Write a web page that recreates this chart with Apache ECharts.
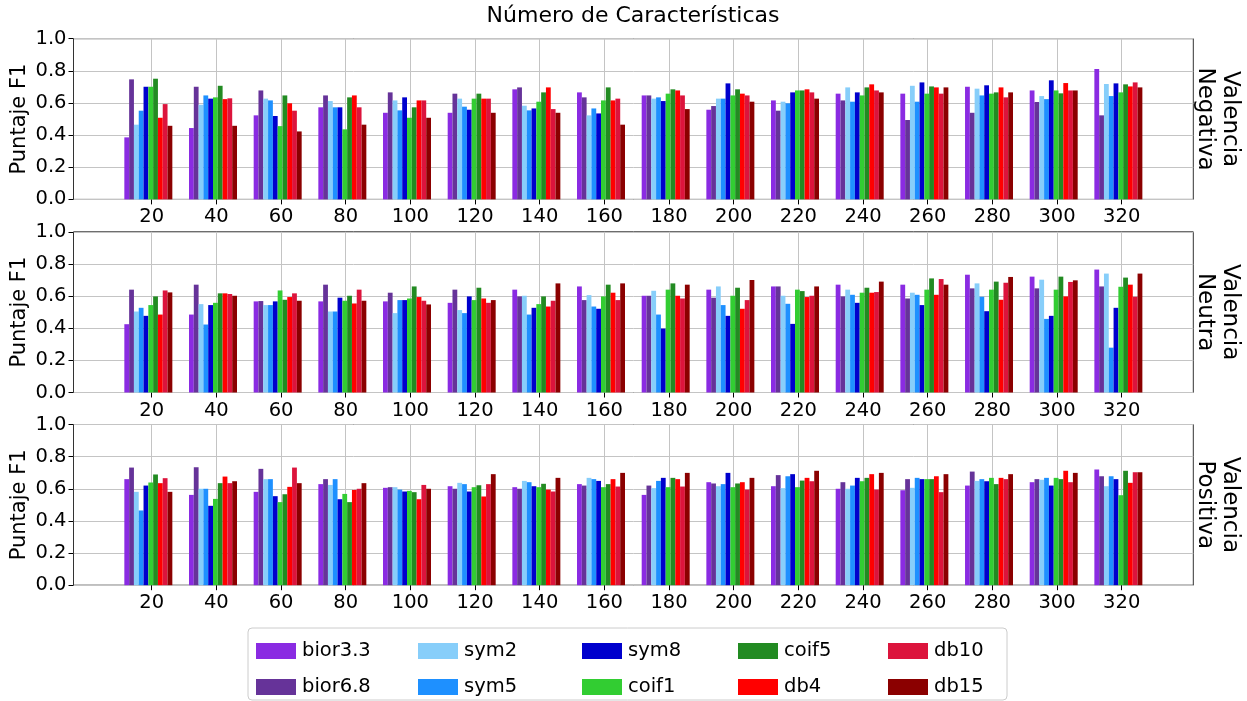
<!DOCTYPE html>
<html>
<head>
<meta charset="utf-8">
<title>Número de Características</title>
<script src="https://cdn.jsdelivr.net/npm/echarts@6/dist/echarts.min.js"></script>
<style>
  html, body { margin: 0; padding: 0; background: #fff; }
  #main { width: 1247px; height: 701px; }
</style>
</head>
<body>
<div id="main"></div>
<script>
// Number of features on the x axis
const categories = ['20', '40', '60', '80', '100', '120', '140', '160', '180', '200', '220', '240', '260', '280', '300', '320'];
const seriesNames = ['bior3.3', 'bior6.8', 'sym2', 'sym5', 'sym8', 'coif1', 'coif5', 'db4', 'db10', 'db15'];
const seriesColors = ['#8A2BE2', '#663399', '#87CEFA', '#1E90FF', '#0000CD', '#32CD32', '#228B22', '#FF0000', '#DC143C', '#8B0000'];
const panelLabels = ['Valencia\nNegativa', 'Valencia\nNeutra', 'Valencia\nPositiva'];
const yTickLabels = ['0.0', '0.2', '0.4', '0.6', '0.8', '1.0'];

// F1 scores, negative valence
const negBior33 = [0.386, 0.444, 0.523, 0.573, 0.539, 0.539, 0.685, 0.666, 0.647, 0.558, 0.616, 0.658, 0.658, 0.701, 0.678, 0.811];
const negBior68 = [0.747, 0.701, 0.678, 0.647, 0.666, 0.658, 0.697, 0.635, 0.647, 0.581, 0.552, 0.616, 0.494, 0.539, 0.606, 0.523];
const negSym2   = [0.465, 0.589, 0.627, 0.612, 0.616, 0.627, 0.583, 0.523, 0.627, 0.627, 0.608, 0.697, 0.707, 0.689, 0.643, 0.718];
const negSym5   = [0.552, 0.647, 0.616, 0.573, 0.554, 0.577, 0.554, 0.566, 0.635, 0.627, 0.598, 0.608, 0.608, 0.647, 0.624, 0.643];
const negSym8   = [0.701, 0.627, 0.519, 0.573, 0.635, 0.558, 0.566, 0.535, 0.612, 0.722, 0.666, 0.666, 0.728, 0.710, 0.741, 0.722];
const negCoif1  = [0.701, 0.635, 0.456, 0.436, 0.508, 0.627, 0.608, 0.616, 0.658, 0.647, 0.678, 0.647, 0.658, 0.658, 0.678, 0.666];
const negCoif5  = [0.751, 0.707, 0.647, 0.635, 0.573, 0.658, 0.666, 0.697, 0.685, 0.685, 0.678, 0.697, 0.703, 0.666, 0.660, 0.716];
const negDb4    = [0.508, 0.624, 0.598, 0.647, 0.616, 0.627, 0.697, 0.616, 0.678, 0.658, 0.685, 0.716, 0.697, 0.697, 0.724, 0.703];
const negDb10   = [0.593, 0.629, 0.552, 0.573, 0.616, 0.627, 0.562, 0.627, 0.647, 0.647, 0.666, 0.678, 0.658, 0.635, 0.678, 0.728];
const negDb15   = [0.458, 0.458, 0.423, 0.465, 0.508, 0.539, 0.539, 0.465, 0.562, 0.608, 0.627, 0.666, 0.697, 0.666, 0.678, 0.697];

// F1 scores, neutral valence
const neuBior33 = [0.425, 0.485, 0.567, 0.567, 0.567, 0.558, 0.640, 0.660, 0.602, 0.640, 0.660, 0.671, 0.671, 0.733, 0.721, 0.765];
const neuBior68 = [0.640, 0.671, 0.569, 0.671, 0.621, 0.640, 0.598, 0.575, 0.602, 0.590, 0.660, 0.598, 0.585, 0.648, 0.648, 0.660];
const neuSym2   = [0.504, 0.550, 0.544, 0.504, 0.494, 0.513, 0.602, 0.606, 0.633, 0.660, 0.602, 0.640, 0.621, 0.679, 0.702, 0.740];
const neuSym5   = [0.527, 0.423, 0.544, 0.504, 0.575, 0.494, 0.485, 0.535, 0.485, 0.544, 0.552, 0.608, 0.608, 0.596, 0.458, 0.279];
const neuSym8   = [0.477, 0.544, 0.567, 0.590, 0.575, 0.598, 0.527, 0.521, 0.398, 0.477, 0.427, 0.558, 0.544, 0.506, 0.477, 0.527];
const neuCoif1  = [0.544, 0.558, 0.635, 0.571, 0.585, 0.575, 0.550, 0.598, 0.640, 0.602, 0.640, 0.621, 0.640, 0.640, 0.640, 0.658];
const neuCoif5  = [0.598, 0.617, 0.577, 0.602, 0.660, 0.652, 0.598, 0.671, 0.679, 0.652, 0.631, 0.652, 0.710, 0.690, 0.721, 0.715];
const neuDb4    = [0.485, 0.617, 0.594, 0.554, 0.594, 0.585, 0.535, 0.621, 0.602, 0.521, 0.594, 0.621, 0.608, 0.577, 0.598, 0.671];
const neuDb10   = [0.635, 0.613, 0.617, 0.640, 0.571, 0.558, 0.571, 0.575, 0.585, 0.575, 0.602, 0.625, 0.706, 0.683, 0.688, 0.596];
const neuDb15   = [0.623, 0.602, 0.571, 0.571, 0.548, 0.575, 0.679, 0.679, 0.671, 0.700, 0.660, 0.690, 0.671, 0.719, 0.698, 0.740];

// F1 scores, positive valence
const posBior33 = [0.660, 0.562, 0.581, 0.629, 0.606, 0.616, 0.610, 0.629, 0.562, 0.641, 0.616, 0.600, 0.591, 0.620, 0.641, 0.720];
const posBior68 = [0.732, 0.734, 0.724, 0.660, 0.610, 0.600, 0.600, 0.620, 0.620, 0.633, 0.685, 0.641, 0.660, 0.707, 0.660, 0.678];
const posSym2   = [0.581, 0.600, 0.660, 0.624, 0.610, 0.637, 0.649, 0.668, 0.604, 0.616, 0.604, 0.600, 0.606, 0.649, 0.656, 0.616];
const posSym5   = [0.465, 0.600, 0.660, 0.660, 0.595, 0.629, 0.641, 0.660, 0.649, 0.629, 0.678, 0.620, 0.668, 0.660, 0.668, 0.678];
const posSym8   = [0.620, 0.494, 0.554, 0.535, 0.583, 0.583, 0.616, 0.649, 0.668, 0.699, 0.691, 0.668, 0.660, 0.647, 0.620, 0.660];
const posCoif1  = [0.639, 0.537, 0.517, 0.568, 0.587, 0.610, 0.610, 0.610, 0.610, 0.610, 0.610, 0.647, 0.660, 0.668, 0.668, 0.560];
const posCoif5  = [0.689, 0.635, 0.566, 0.517, 0.579, 0.622, 0.631, 0.629, 0.668, 0.633, 0.651, 0.668, 0.660, 0.629, 0.660, 0.712];
const posDb4    = [0.635, 0.676, 0.612, 0.593, 0.535, 0.552, 0.595, 0.660, 0.660, 0.641, 0.668, 0.691, 0.678, 0.668, 0.712, 0.637];
const posDb10   = [0.666, 0.635, 0.732, 0.600, 0.624, 0.629, 0.583, 0.614, 0.614, 0.595, 0.647, 0.595, 0.579, 0.660, 0.641, 0.703];
const posDb15   = [0.581, 0.647, 0.635, 0.635, 0.600, 0.691, 0.668, 0.699, 0.699, 0.668, 0.712, 0.699, 0.691, 0.691, 0.699, 0.703];

const panels = [
  [negBior33, negBior68, negSym2, negSym5, negSym8, negCoif1, negCoif5, negDb4, negDb10, negDb15],
  [neuBior33, neuBior68, neuSym2, neuSym5, neuSym8, neuCoif1, neuCoif5, neuDb4, neuDb10, neuDb15],
  [posBior33, posBior68, posSym2, posSym5, posSym8, posCoif1, posCoif5, posDb4, posDb10, posDb15]
];

const FONT = 'DejaVu Sans';
const TICK_FS = 19.5;
const plotTop = [38.7, 231.8, 424.5];
const plotH = 160.7;
const frameLeft = 73.5, frameWidth = 1119.8;   // axes box
const tickLeft = 151.7, tickWidth = 970;       // first to last tick
const barLeft = 116, barWidth = 1034.7;        // category bands holding the bar groups

const grids = [], xAxes = [], yAxes = [], series = [], graphics = [];

panels.forEach((rows, p) => {
  const g = grids.length;
  // frame + horizontal grid + y labels
  grids.push({ left: frameLeft, width: frameWidth, top: plotTop[p], height: plotH,
    show: true, borderColor: '#333', borderWidth: 1, backgroundColor: 'transparent' });
  // x ticks, labels and vertical grid lines
  grids.push({ left: tickLeft, width: tickWidth, top: plotTop[p], height: plotH });
  // bars
  grids.push({ left: barLeft, width: barWidth, top: plotTop[p], height: plotH });

  xAxes.push({ gridIndex: g, type: 'value', min: 0, max: 1, show: false });
  yAxes.push({ gridIndex: g, type: 'value', min: 0, max: 1, interval: 0.2,
    axisLine: { show: false },
    axisTick: { show: true, length: 5, lineStyle: { color: '#000', width: 1 } },
    axisLabel: { fontSize: TICK_FS, color: '#000', fontFamily: FONT, margin: 7,
      formatter: v => yTickLabels[Math.round(v / 0.2)] },
    splitLine: { show: true, lineStyle: { color: '#c4c4c4', width: 1 } } });

  xAxes.push({ gridIndex: g + 1, type: 'category', data: categories, boundaryGap: false,
    axisLine: { show: false },
    axisTick: { show: true, length: 5, interval: 0, lineStyle: { color: '#000', width: 1 } },
    axisLabel: { fontSize: TICK_FS, color: '#000', fontFamily: FONT, margin: 8, interval: 0 },
    splitLine: { show: true, interval: 0, lineStyle: { color: '#c4c4c4', width: 1 } } });
  yAxes.push({ gridIndex: g + 1, type: 'value', min: 0, max: 1, show: false });

  xAxes.push({ gridIndex: g + 2, type: 'category', data: categories, show: false });
  yAxes.push({ gridIndex: g + 2, type: 'value', min: 0, max: 1, show: false });

  rows.forEach((vals, s) => {
    series.push({
      type: 'bar', name: seriesNames[s],
      xAxisIndex: xAxes.length - 1, yAxisIndex: yAxes.length - 1,
      data: vals, barWidth: 4.8, barGap: '0%',
      itemStyle: { color: seriesColors[s] },
      emphasis: { disabled: true }, animation: false
    });
  });

  const midY = plotTop[p] + plotH / 2;
  graphics.push({ type: 'text', x: 20, y: midY, rotation: Math.PI / 2,
    style: { text: 'Puntaje F1', font: '21px "DejaVu Sans"', fill: '#000', align: 'center', verticalAlign: 'middle' } });
  graphics.push({ type: 'text', x: 1217, y: midY, rotation: -Math.PI / 2,
    style: { text: panelLabels[p], font: '23px "DejaVu Sans"', fill: '#000', align: 'center', verticalAlign: 'middle', lineHeight: 25 } });
});

graphics.push({ type: 'text', x: 633, y: 16,
  style: { text: 'Número de Características', font: '22px "DejaVu Sans"', fill: '#000', align: 'center', verticalAlign: 'middle' } });

// legend frame
graphics.push({ type: 'rect', z: -1, shape: { x: 248, y: 628, width: 759, height: 72, r: 4 },
  style: { fill: '#fff', stroke: '#cccccc', lineWidth: 1 } });

// legend laid out column by column, two entries per column
const legendColumns = [[0, 1], [2, 3], [4, 5], [6, 7], [8, 9]];
const legendX = [256, 418, 582, 738, 888];
const legends = legendColumns.map((idx, c) => ({
  orient: 'vertical', left: legendX[c], top: 641, padding: 0,
  itemWidth: 40, itemHeight: 16, itemGap: 16, icon: 'rect', selectedMode: false,
  data: idx.map(i => seriesNames[i]),
  textStyle: { fontSize: TICK_FS, fontFamily: FONT, color: '#000', padding: [0, 0, 0, 1] }
}));

const chart = echarts.init(document.getElementById('main'), null, { renderer: 'canvas' });
chart.setOption({
  animation: false,
  backgroundColor: '#fff',
  grid: grids,
  xAxis: xAxes,
  yAxis: yAxes,
  legend: legends,
  series: series,
  graphic: graphics
});
</script>
</body>
</html>
